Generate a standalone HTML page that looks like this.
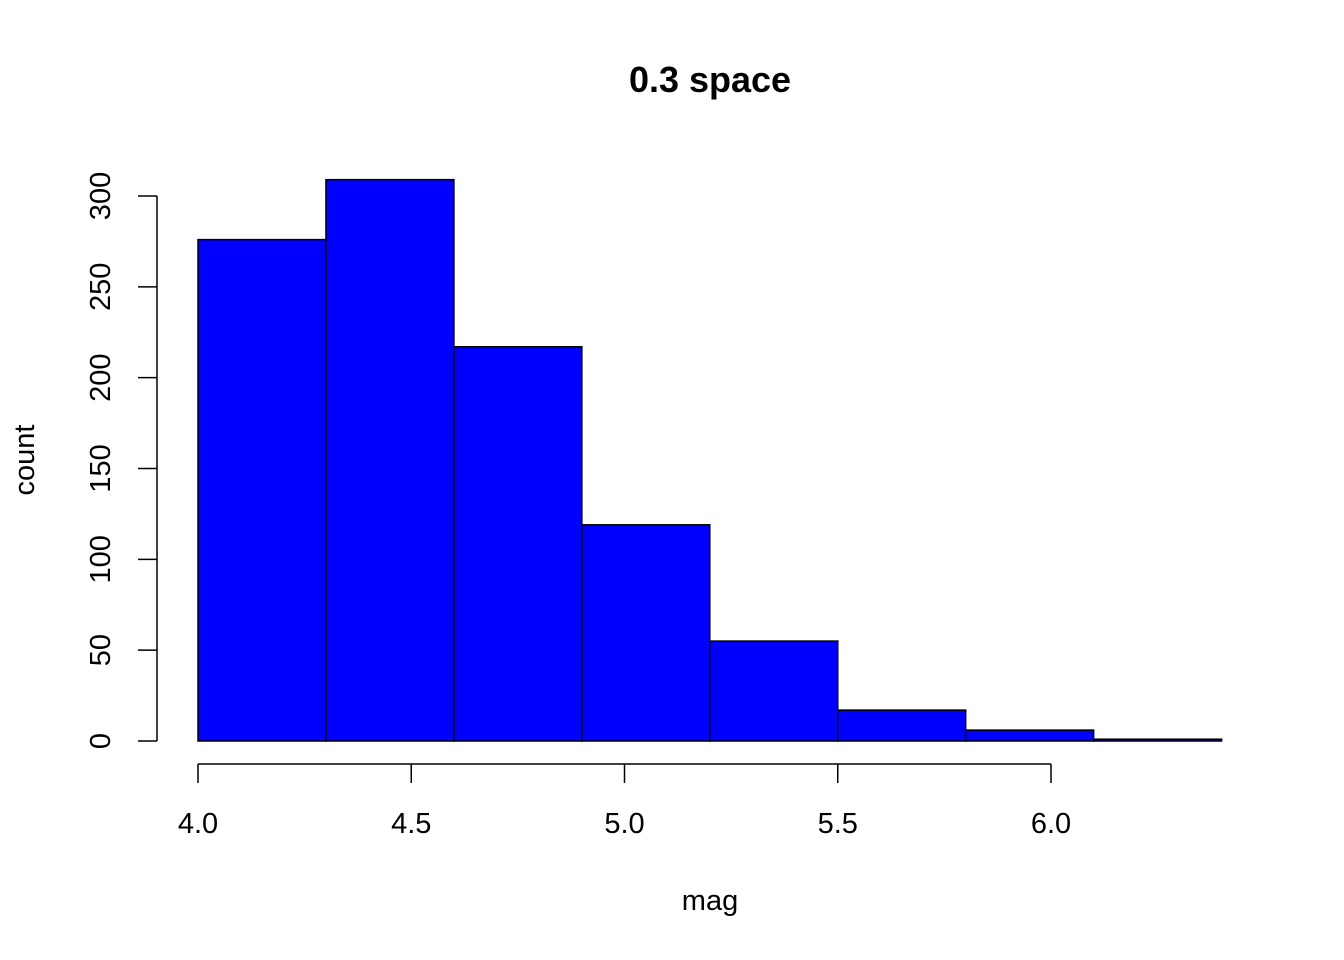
<!DOCTYPE html>
<html><head><meta charset="utf-8"><style>
html,body{margin:0;padding:0;background:#fff;}
svg{display:block;font-family:"Liberation Sans",Arial,sans-serif;}
</style></head><body>
<svg id="chart" width="1344" height="960" viewBox="0 0 1344 960">
<text x="710" y="92" text-anchor="middle" font-size="36" font-weight="bold">0.3 space</text>
<text x="710" y="910" text-anchor="middle" font-size="29">mag</text>
<text transform="translate(34,460) rotate(-90)" text-anchor="middle" font-size="29">count</text>
<g id="bars"></g>
<g id="xaxis"></g>
<g id="yaxis"></g>
</svg>
<script>
const binStarts=[4.0,4.3,4.6,4.9,5.2,5.5,5.8,6.1];
const binWidth=0.3;
const counts=[276,309,217,119,55,17,6,1];
const xTicks=[4.0,4.5,5.0,5.5,6.0];
const xTickLabels=["4.0","4.5","5.0","5.5","6.0"];
const yTicks=[0,50,100,150,200,250,300];
const yTickLabels=["0","50","100","150","200","250","300"];

const NS="http://www.w3.org/2000/svg";
const xs=v=>198+(v-4.0)*426.5;
const ys=v=>741-v*(545/300);
function mk(tag,attrs,parent){const e=document.createElementNS(NS,tag);for(const k in attrs)e.setAttribute(k,attrs[k]);parent.appendChild(e);return e;}
const bars=document.getElementById('bars');
binStarts.forEach((b,i)=>{
  const x0=xs(b),x1=xs(b+binWidth),y=ys(counts[i]);
  const r=mk('rect',{x:x0,y:y,width:x1-x0,height:ys(0)-y,fill:'#0000ff',stroke:'#000','stroke-width':1.5},bars);
  
  
});
const xa=document.getElementById('xaxis');
const xl=mk('line',{x1:xs(xTicks[0]),x2:xs(xTicks[xTicks.length-1]),y1:764,y2:764,stroke:'#000','stroke-width':1.5},xa);


xTicks.forEach((t,i)=>{
  mk('line',{x1:xs(t),x2:xs(t),y1:764,y2:783,stroke:'#000','stroke-width':1.5},xa);
  const tx=mk('text',{x:xs(t),y:833,'text-anchor':'middle','font-size':29},xa);
  tx.textContent=xTickLabels[i];
  
  
});
const ya=document.getElementById('yaxis');
const yl=mk('line',{x1:157,x2:157,y1:ys(yTicks[0]),y2:ys(yTicks[yTicks.length-1]),stroke:'#000','stroke-width':1.5},ya);


yTicks.forEach((t,i)=>{
  mk('line',{x1:138,x2:157,y1:ys(t),y2:ys(t),stroke:'#000','stroke-width':1.5},ya);
  const tx=mk('text',{transform:`translate(110,${ys(t)}) rotate(-90)`,'text-anchor':'middle','font-size':29},ya);
  tx.textContent=yTickLabels[i];
  
  
});
</script>
</body></html>
